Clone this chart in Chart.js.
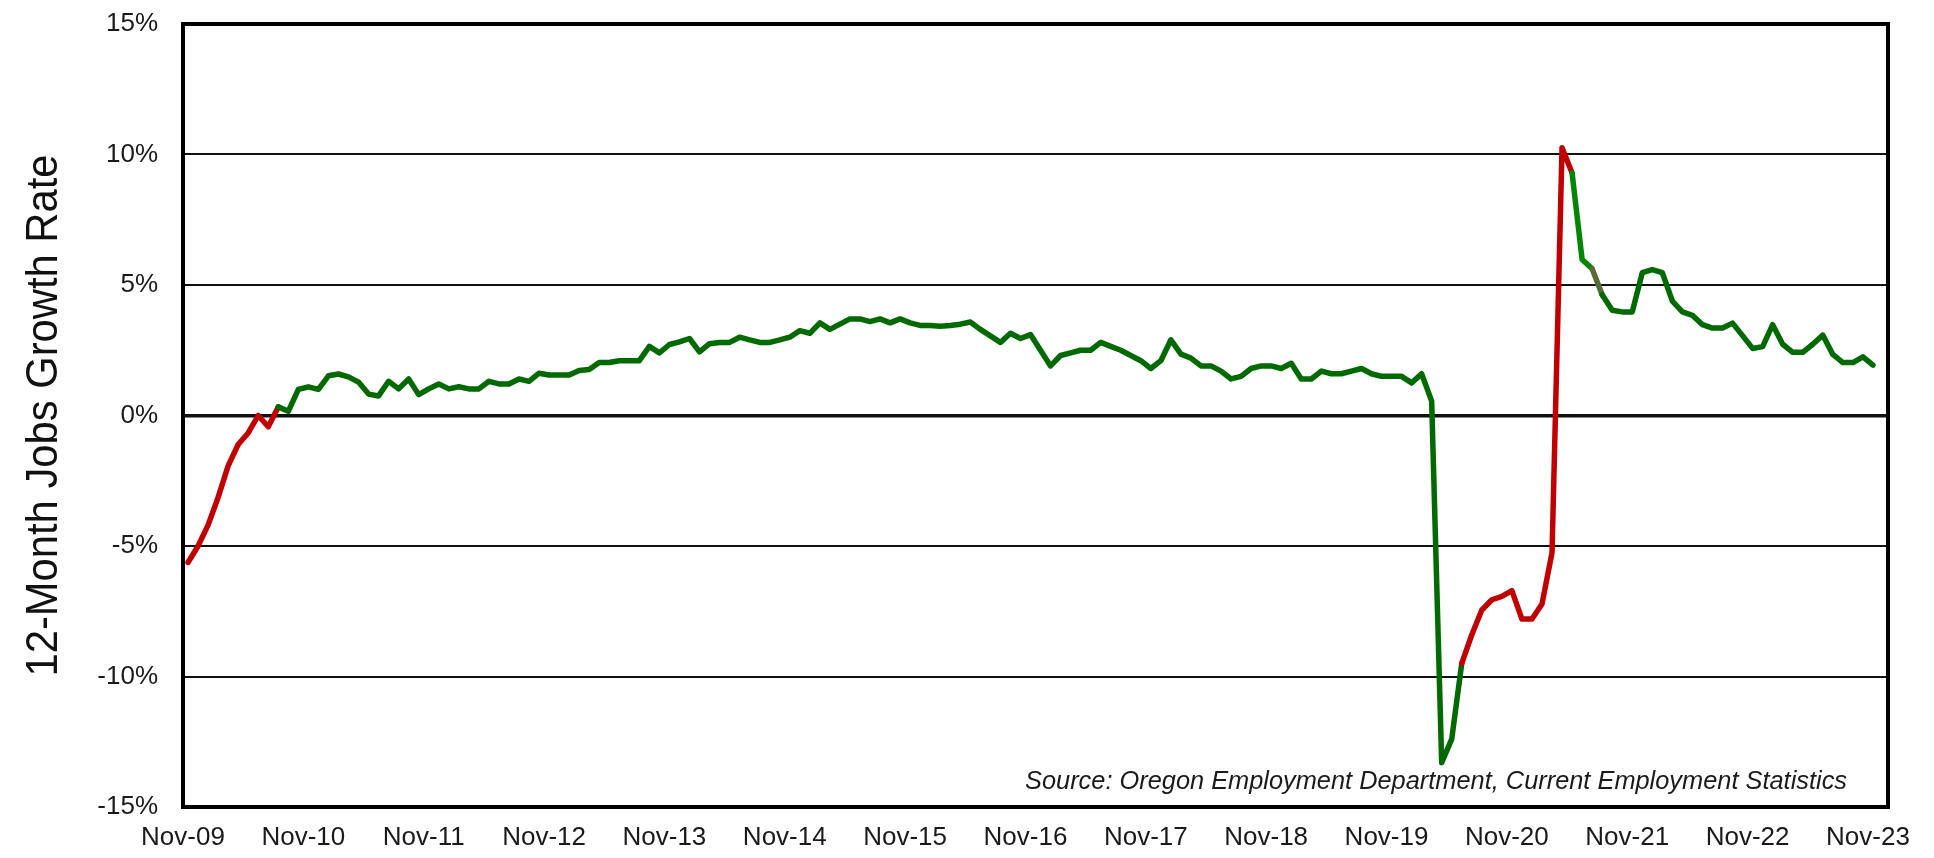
<!DOCTYPE html>
<html>
<head>
<meta charset="utf-8">
<script src="https://cdn.jsdelivr.net/npm/chart.js@4.4.1/dist/chart.umd.min.js"></script>
<style>
  html, body { margin: 0; padding: 0; background: #ffffff; }
  #wrap { width: 1934px; height: 858px; position: relative; }
</style>
</head>
<body>
<div id="wrap"><canvas id="c" width="1934" height="858"></canvas></div>
<script>
// ---- data (monthly, Nov-09 .. Nov-23) ----
const tickLabels = ['Nov-09','Nov-10','Nov-11','Nov-12','Nov-13','Nov-14','Nov-15','Nov-16','Nov-17','Nov-18','Nov-19','Nov-20','Nov-21','Nov-22','Nov-23'];
const yTicks = [-15, -10, -5, 0, 5, 10, 15];
const growthRate = [
  -5.63, -5.0, -4.2, -3.14, -1.93, -1.11, -0.67, 0.0, -0.43, 0.33, 0.16, 1.0,
  1.1, 1.0, 1.52, 1.59, 1.48, 1.28, 0.82, 0.75, 1.31, 1.02, 1.4, 0.8,
  1.02, 1.21, 1.02, 1.1, 1.02, 1.02, 1.31, 1.21, 1.21, 1.4, 1.31, 1.62,
  1.55, 1.55, 1.55, 1.72, 1.76, 2.03, 2.03, 2.1, 2.1, 2.1, 2.65, 2.4,
  2.72, 2.82, 2.95, 2.44, 2.75, 2.8, 2.8, 3.0, 2.9, 2.8, 2.8, 2.9,
  3.0, 3.25, 3.15, 3.55, 3.3, 3.5, 3.7, 3.7, 3.6, 3.7, 3.55, 3.7,
  3.55, 3.45, 3.45, 3.42, 3.45, 3.5, 3.58, 3.3, 3.05, 2.8, 3.15, 2.95,
  3.1, 2.5, 1.9, 2.3, 2.4, 2.5, 2.5, 2.8, 2.65, 2.5, 2.3, 2.1,
  1.8, 2.1, 2.9, 2.35, 2.2, 1.9, 1.9, 1.7, 1.4, 1.5, 1.8, 1.9,
  1.9, 1.8, 2.0, 1.4, 1.4, 1.7, 1.6, 1.6, 1.7, 1.8, 1.6, 1.5,
  1.5, 1.5, 1.25, 1.6, 0.55, -13.3, -12.4, -9.5, -8.4, -7.45, -7.06, -6.93,
  -6.71, -7.8, -7.8, -7.22, -5.26, 10.26, 9.29, 5.98, 5.62, 4.63, 4.03, 3.97,
  3.97, 5.47, 5.59, 5.47, 4.38, 3.97, 3.84, 3.48, 3.35, 3.35, 3.54, 3.06,
  2.57, 2.64, 3.48, 2.73, 2.42, 2.42, 2.73, 3.08, 2.34, 2.03, 2.03, 2.25,
  1.93
];
// segments (by starting month index) drawn in each colour
const redSegments = [[0, 8], [127, 137]];
const brightSegments = [[138, 139]];
const oliveSegments = [[140, 140]];
const sourceText = 'Source: Oregon Employment Department, Current Employment Statistics';
const yTitle = '12-Month Jobs Growth Rate';

// ---- styles ----
const GREEN = '#006a00', BRIGHT = '#008600', RED = '#c00000', OLIVE = '#58693a';
const FONT = '"Liberation Sans", Arial, sans-serif';
const inRanges = (i, ranges) => ranges.some(r => i >= r[0] && i <= r[1]);

const points = growthRate.map((v, i) => ({ x: i, y: v }));

const noPad = s => { s.paddingTop = 0; s.paddingBottom = 0; s.paddingLeft = 0; s.paddingRight = 0; };

const framePlugin = {
  id: 'frame',
  afterDatasetsDraw(chart) {
    const { ctx, chartArea: a } = chart;
    ctx.save();
    ctx.strokeStyle = '#000';
    ctx.lineWidth = 4;
    ctx.strokeRect(a.left, a.top, a.right - a.left, a.bottom - a.top);
    ctx.restore();
  },
  afterDraw(chart) {
    const { ctx, chartArea: a } = chart;
    ctx.save();
    ctx.fillStyle = '#1a1a1a';
    ctx.font = 'italic 26px ' + FONT;
    ctx.textAlign = 'right';
    ctx.textBaseline = 'alphabetic';
    ctx.fillText(sourceText, a.right - 41, a.bottom - 18, 822);
    ctx.translate(45, (a.top + a.bottom) / 2);
    ctx.rotate(-Math.PI / 2);
    ctx.textAlign = 'center';
    ctx.textBaseline = 'middle';
    ctx.font = '45px ' + FONT;
    ctx.fillStyle = '#111';
    ctx.fillText(yTitle, 0, 0, 522);
    ctx.restore();
  }
};

new Chart(document.getElementById('c'), {
  type: 'line',
  data: {
    datasets: [{
      data: points,
      borderColor: GREEN,
      borderWidth: 5.5,
      borderJoinStyle: 'round',
      borderCapStyle: 'round',
      pointRadius: 0,
      tension: 0,
      segment: {
        borderColor: c => {
          const i = c.p0DataIndex;
          if (inRanges(i, redSegments)) return RED;
          if (inRanges(i, oliveSegments)) return OLIVE;
          if (inRanges(i, brightSegments)) return BRIGHT;
          return GREEN;
        }
      }
    }]
  },
  options: {
    responsive: false,
    animation: false,
    devicePixelRatio: 1,
    layout: { padding: { left: 0, right: 46, top: 24, bottom: 0 } },
    plugins: { legend: { display: false }, tooltip: { enabled: false }, title: { display: false } },
    scales: {
      x: {
        type: 'linear',
        min: -0.5,
        max: 169.5,
        afterBuildTicks: s => { s.ticks = tickLabels.map((_, k) => ({ value: -0.5 + 12 * k })); },
        afterFit: s => { s.height = 51; noPad(s); },
        grid: { display: false, drawTicks: false },
        border: { display: false },
        ticks: {
          autoSkip: false,
          maxRotation: 0,
          padding: 15,
          color: '#1a1a1a',
          font: { family: FONT, size: 26 },
          callback: (v, k) => tickLabels[k]
        }
      },
      y: {
        min: -15,
        max: 15,
        afterBuildTicks: s => { s.ticks = yTicks.map(v => ({ value: v })); },
        afterFit: s => { s.width = 183; noPad(s); },
        grid: {
          color: '#111',
          lineWidth: c => (c.tick && c.tick.value === 0 ? 3.5 : 2),
          drawTicks: false
        },
        border: { display: false },
        ticks: {
          padding: 25,
          color: '#1a1a1a',
          font: { family: FONT, size: 26 },
          callback: v => v + '%'
        }
      }
    }
  },
  plugins: [framePlugin]
});
</script>
</body>
</html>
